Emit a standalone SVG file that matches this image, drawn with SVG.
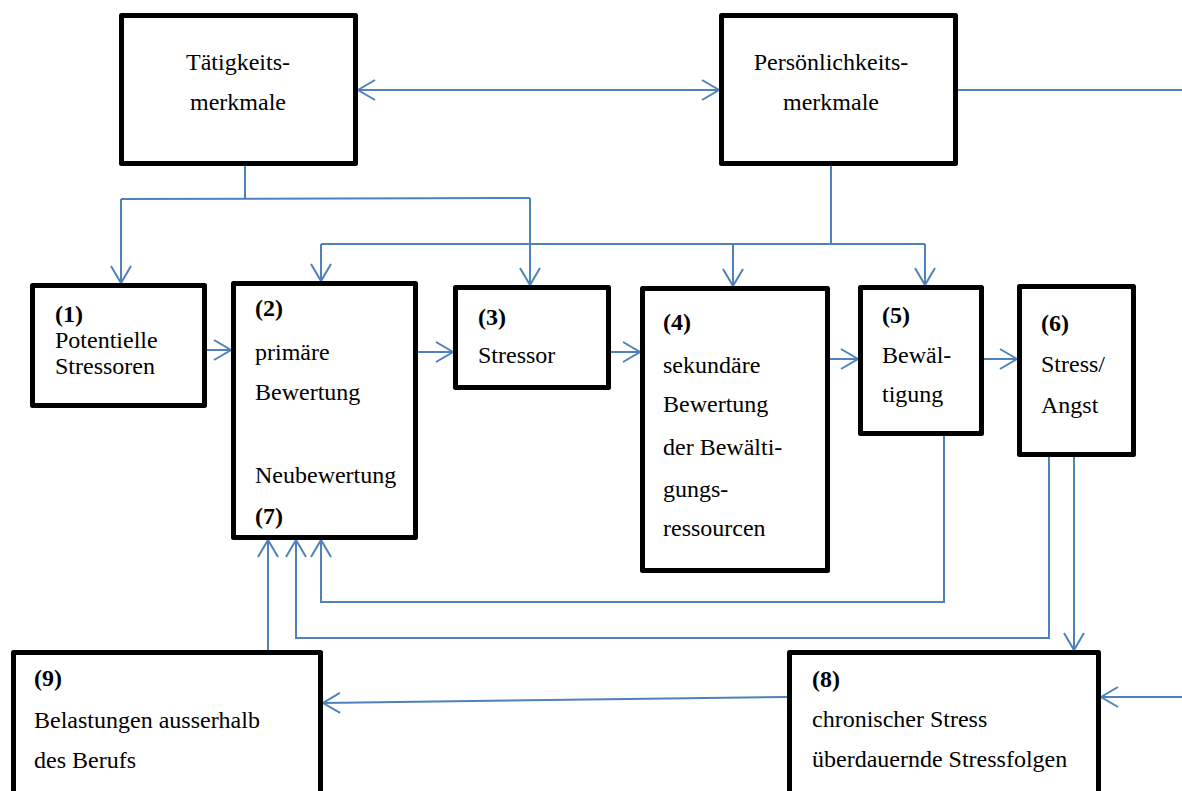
<svg xmlns="http://www.w3.org/2000/svg" width="1182" height="791" viewBox="0 0 1182 791" font-family="'Liberation Serif', 'DejaVu Serif', serif" font-size="24">
<style>
.box{fill:#fff;stroke:#000;stroke-width:5;stroke-linejoin:round}
text{fill:#000}
.b{font-weight:bold}
.c{text-anchor:middle}
.ln{fill:none;stroke:#4f81bd;stroke-width:2}
.ar{fill:none;stroke:#4f81bd;stroke-width:2;marker-end:url(#ah)}
</style>
<defs>
<marker id="ah" markerUnits="userSpaceOnUse" markerWidth="22" markerHeight="24" viewBox="0 0 22 24" refX="19" refY="12" orient="auto-start-reverse">
<path d="M2,2 L19,12 L2,22" fill="none" stroke="#4f81bd" stroke-width="2"/>
</marker>
</defs>
<rect width="1182" height="791" fill="#fff"/>
<g id="connectors">
<line class="ln" x1="358" y1="90" x2="719" y2="90" marker-start="url(#ah)" marker-end="url(#ah)"/>
<line class="ln" x1="958" y1="90" x2="1182" y2="90"/>
<polyline class="ln" points="245,166 245,199"/>
<polyline class="ar" points="121,199 121,283"/>
<polyline class="ln" points="121,199 530,198"/>
<polyline class="ar" points="530,198 530,285"/>
<polyline class="ln" points="831,166 831,244"/>
<polyline class="ln" points="321,244 925,244"/>
<polyline class="ar" points="321,244 321,281"/>
<polyline class="ar" points="733,244 733,286"/>
<polyline class="ar" points="925,244 925,285"/>
<line class="ar" x1="207" y1="350" x2="231" y2="350"/>
<line class="ar" x1="418" y1="352" x2="453" y2="352"/>
<line class="ar" x1="611" y1="352" x2="640" y2="352"/>
<line class="ar" x1="830" y1="359" x2="858" y2="359"/>
<line class="ar" x1="984" y1="359" x2="1017" y2="359"/>
<polyline class="ar" points="944,436 944,602 321,602 321,540"/>
<polyline class="ar" points="1049,457 1049,638 296,638 296,540"/>
<polyline class="ar" points="1074,457 1074,650"/>
<polyline class="ar" points="268,650 268,540"/>
<line class="ar" x1="787" y1="697" x2="323" y2="703"/>
<line class="ar" x1="1182" y1="697" x2="1101" y2="697"/>
</g>
<g id="taetigkeit">
<rect class="box" x="121.5" y="15.5" width="234" height="148"/>
<text class="c" x="238" y="70">Tätigkeits-</text>
<text class="c" x="238" y="110">merkmale</text>
</g>
<g id="persoenlichkeit">
<rect class="box" x="721.5" y="15.5" width="234" height="148"/>
<text class="c" x="831" y="70">Persönlichkeits-</text>
<text class="c" x="831" y="110">merkmale</text>
</g>
<g id="n1">
<rect class="box" x="32.5" y="285.5" width="172" height="120"/>
<text class="b" x="55" y="322">(1)</text>
<text x="55" y="348">Potentielle</text>
<text x="55" y="374">Stressoren</text>
</g>
<g id="n2">
<rect class="box" x="233.5" y="283.5" width="182" height="254"/>
<text class="b" x="255" y="316">(2)</text>
<text x="255" y="360">primäre</text>
<text x="255" y="400">Bewertung</text>
<text x="255" y="483">Neubewertung</text>
<text class="b" x="255" y="524">(7)</text>
</g>
<g id="n3">
<rect class="box" x="455.5" y="287.5" width="153" height="100"/>
<text class="b" x="478" y="325">(3)</text>
<text x="478" y="363">Stressor</text>
</g>
<g id="n4">
<rect class="box" x="642.5" y="288.5" width="185" height="282"/>
<text class="b" x="663" y="330">(4)</text>
<text x="663" y="373">sekundäre</text>
<text x="663" y="412">Bewertung</text>
<text x="663" y="455">der Bewälti-</text>
<text x="663" y="497">gungs-</text>
<text x="663" y="536">ressourcen</text>
</g>
<g id="n5">
<rect class="box" x="860.5" y="287.5" width="121" height="146"/>
<text class="b" x="882" y="323">(5)</text>
<text x="882" y="363">Bewäl-</text>
<text x="882" y="402">tigung</text>
</g>
<g id="n6">
<rect class="box" x="1019.5" y="286.5" width="114" height="168"/>
<text class="b" x="1041" y="331">(6)</text>
<text x="1041" y="372">Stress/</text>
<text x="1041" y="413">Angst</text>
</g>
<g id="n9">
<rect class="box" x="13.5" y="652.5" width="307" height="150"/>
<text class="b" x="34" y="686">(9)</text>
<text x="34" y="728">Belastungen ausserhalb</text>
<text x="34" y="768">des Berufs</text>
</g>
<g id="n8">
<rect class="box" x="789.5" y="652.5" width="309" height="150"/>
<text class="b" x="812" y="687">(8)</text>
<text x="812" y="727">chronischer Stress</text>
<text x="812" y="767">überdauernde Stressfolgen</text>
</g>
</svg>
